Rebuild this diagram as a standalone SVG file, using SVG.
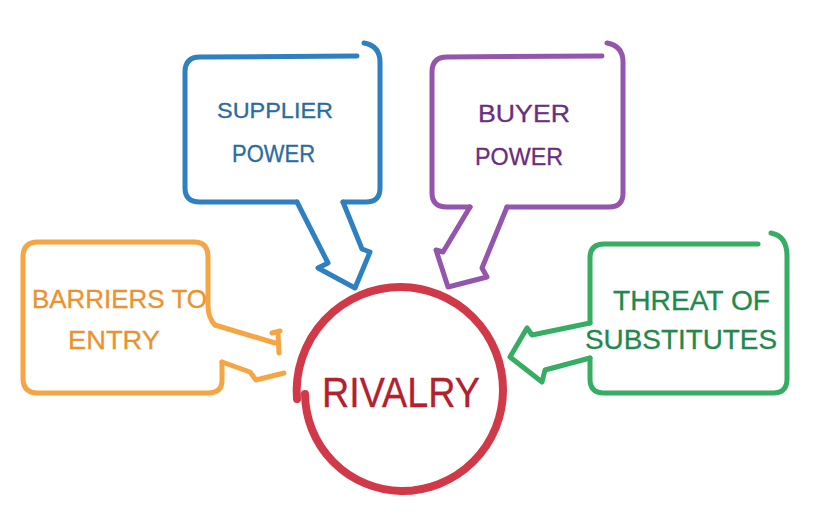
<svg xmlns="http://www.w3.org/2000/svg" width="818" height="513" viewBox="0 0 818 513">
<style>
.box{fill:none;stroke-width:5;stroke-linecap:round;stroke-linejoin:round}
.t{font-family:"Liberation Sans","Noto Sans",sans-serif;text-anchor:start;stroke-width:0.3}
.blue{stroke:#2f80c0}.purple{stroke:#9455ad}.orange{stroke:#f5a543}.green{stroke:#35ad62}
</style>
<rect width="818" height="513" fill="#ffffff"/>
<g id="connectors">
<path class="box blue" d="M297,202 L328,263 L318,268 L355,288 L370,252 L362,249 L343,202"/>
<path class="box purple" d="M470,207 L443,252 L436,250 L448,287 L487,277 L482,268 L507,207"/>
<path class="box orange" d="M215,325 L275,343 M272,333 L280,331 M278,333 L279,353 M222,362 L250,372 L256,380 L284,373"/>
<path class="box green" d="M590,323 L532,335 L527,328 L510,357 L542,382 L545,370 L590,358"/>
</g>
<g id="supplier-power">
<path class="box blue" d="M357,56 L200,57 Q185,57 185,72 L185,188 Q185,202 200,202 L297,202 M343,202 L366,202 Q380,202 380,188 L380,62 Q380,46 364,43"/>
<text class="t" x="217" y="118" font-size="22" fill="#2a6c9e" stroke="#2a6c9e" textLength="116" lengthAdjust="spacingAndGlyphs">SUPPLIER</text>
<text class="t" x="232" y="162" font-size="23" fill="#2a6c9e" stroke="#2a6c9e" textLength="83" lengthAdjust="spacingAndGlyphs">POWER</text>
</g>
<g id="buyer-power">
<path class="box purple" d="M602,56 L447,57 Q432,57 432,72 L432,193 Q432,207 447,207 L470,207 M507,207 L609,207 Q623,207 623,193 L623,62 Q623,46 607,43"/>
<text class="t" x="478" y="122" font-size="24" fill="#6a2d80" stroke="#6a2d80" textLength="92" lengthAdjust="spacingAndGlyphs">BUYER</text>
<text class="t" x="475" y="165" font-size="24" fill="#6a2d80" stroke="#6a2d80" textLength="88" lengthAdjust="spacingAndGlyphs">POWER</text>
</g>
<g id="barriers-to-entry">
<path class="box orange" d="M215,325 Q208,318 208,305 L208,257 Q208,242 194,242 L38,242 Q23,242 23,257 L23,378 Q23,393 38,393 L208,393 Q222,393 222,380 L222,362"/>
<text class="t" x="32" y="308" font-size="25" fill="#eb922f" stroke="#eb922f" textLength="175" lengthAdjust="spacingAndGlyphs">BARRIERS TO</text>
<text class="t" x="68" y="349" font-size="26" fill="#eb922f" stroke="#eb922f" textLength="92" lengthAdjust="spacingAndGlyphs">ENTRY</text>
</g>
<g id="threat-of-substitutes">
<path class="box green" d="M590,323 L590,258 Q590,244 604,244 L758,244 M771,233 Q787,236 787,256 L787,379 Q787,393 773,393 L604,393 Q590,393 590,379 L590,358"/>
<text class="t" x="613" y="310" font-size="28" fill="#23894b" stroke="#23894b" textLength="157" lengthAdjust="spacingAndGlyphs">THREAT OF</text>
<text class="t" x="585" y="349" font-size="27" fill="#23894b" stroke="#23894b" textLength="192" lengthAdjust="spacingAndGlyphs">SUBSTITUTES</text>
</g>
<g id="rivalry">
<path d="M305,394 A98,98 0 0 0 401,491 A101,101 0 0 0 503,390 A103,103 0 0 0 401,287 A104,104 0 0 0 297,399" fill="none" stroke="#d13848" stroke-width="8" stroke-linecap="round"/>
<text class="t" x="322" y="407" font-size="42" fill="#b3202e" stroke="#b3202e" textLength="158" lengthAdjust="spacingAndGlyphs">RIVALRY</text>
</g>
</svg>
